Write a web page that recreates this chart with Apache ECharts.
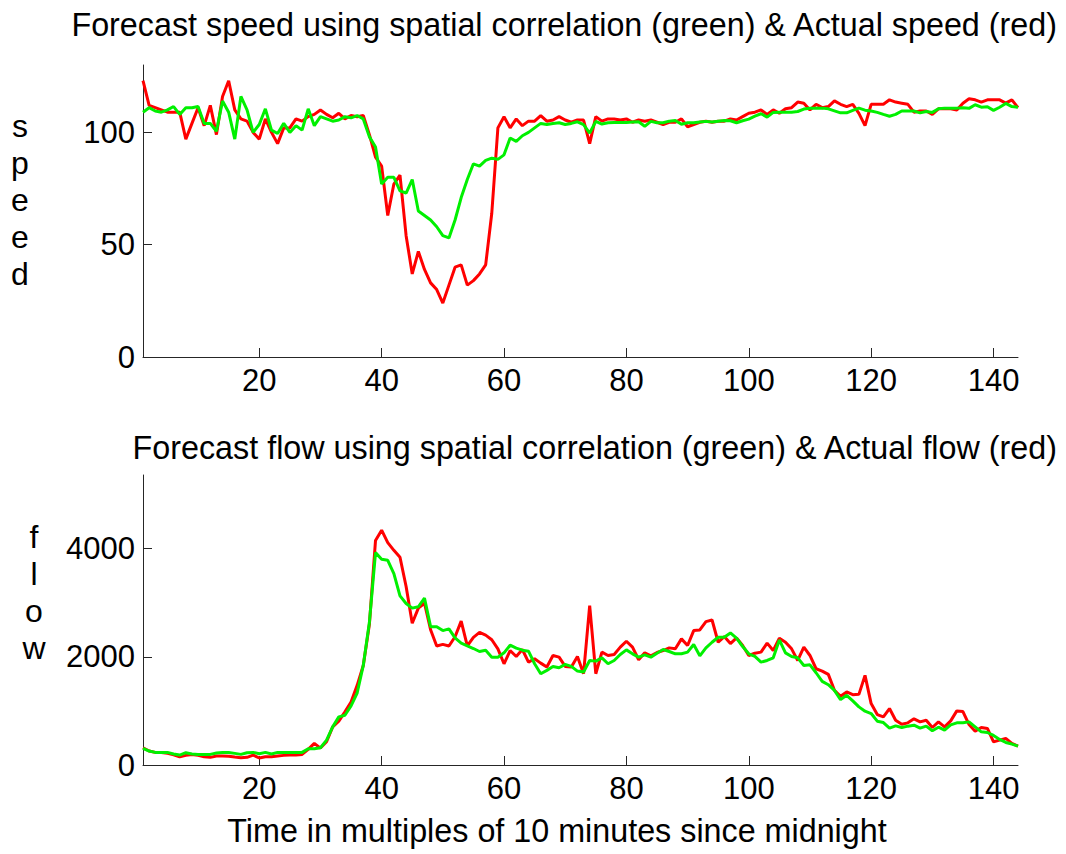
<!DOCTYPE html>
<html>
<head>
<meta charset="utf-8">
<script src="https://cdn.jsdelivr.net/npm/echarts@6/dist/echarts.min.js"></script>
<style>
html,body{margin:0;padding:0;background:#fff;}
#chart{width:1066px;height:854px;}
</style>
</head>
<body>
<div id="chart"></div>
<script>
// Time index: multiples of 10 minutes since midnight (1..144)
const timeStart = 1;
const timeEnd = 144;
const xTicks = [20, 40, 60, 80, 100, 120, 140];
const speedTicks = [0, 50, 100];
const flowTicks = [0, 2000, 4000];

// Actual speed (red)
const speedActual = [
123,112,111,110,109,109,109,97,104,111,
103,112,99,116,123,110,106,105,100,97,
106,100,95,102,102,106,105,107,108,110,
108,106.5,108.5,106,107.5,107,107.5,99,89,85,
63,77,81,54,37,47,39,33,30,24,
32,40,41,32,34,37,41,64,102,107,
102,106,103,105,105,107.5,105,105.5,107,105.5,
104.5,105.5,105.5,95,107,105,106,106,105.5,106,
104.5,105.5,105,105.5,104.5,103.5,104.5,104.5,106,102.5,
103.5,104.5,105,104.5,105,105,106,105.5,107,108.5,
109,110,108,110,108.5,110.5,111,113.5,113,110,
112.5,111,111.5,114,112.5,111.5,112.5,108.5,103,112.5,
112.5,112.5,114.5,113.5,113,112.5,109,109.5,109.5,108,
110.5,110.5,110.5,110,113,115,114.5,113.5,114.5,114.5,
114.5,113,114.5,111
];

// Forecast speed using spatial correlation (green)
const speedForecast = [
109,111,109.5,109,110,111.5,108,111,111,111.5,
104,104,100.5,114,109,97,116,110,100,103.5,
110.5,101,99.5,104,100,103,101,110.5,103,107,
106,105,105.5,107,106.5,107.5,106,98,93.5,77,
80,80,74,73,79,65,63,61,58,54,
53,61,71,79,86,85,87.5,88.5,88,90,
97.5,96,98.5,100,102,104,103.5,104,104.3,103.5,
104,104.7,103.5,99.7,104.9,103.7,104.3,104.4,104.4,104.4,
104.6,104.7,102.7,104.9,104.3,104.3,105,105.3,103.6,104.3,
104.3,104.6,104.9,104.6,105,105.3,105.2,104.3,105.2,105.9,
107.2,108.3,106.8,108.9,109,109,109,109.3,110.4,110.7,
110.8,110.8,110.5,109.6,108.7,108.7,109.8,110.8,109.9,109.5,
108.9,108,107.2,108,109.5,109.5,109.5,108.7,109.3,108.9,
110.5,110.8,110.8,110.8,111,110.7,112.3,111.2,111.4,109.8,
111.2,112.9,111.5,111.2
];

// Actual flow (red)
const flowActual = [
319,258,233,233,215,190,153,178,196,178,
153,141,166,166,160,147,135,141,184,129,
153,153,166,178,184,184,196,288,400,313,
429,705,810,982,1166,1472,1840,2600,4150,4340,
4110,3968,3840,3300,2620,2900,2990,2500,2200,2230,
2200,2370,2660,2200,2360,2450,2400,2315,2147,1871,
2116,2006,2135,1902,1963,1883,1810,2024,1994,1822,
1810,2006,1687,2944,1687,2086,2024,2043,2178,2288,
2178,1945,2073,2018,2079,2116,2165,2147,2331,2208,
2484,2496,2650,2680,2269,2374,2245,2349,2208,2024,
2067,2086,2252,2116,2343,2269,2147,1932,2177,2024,
1779,1736,1675,1380,1270,1350,1300,1306,1656,1135,
932,889,1043,828,754,779,853,797,828,693,
797,705,816,1000,988,748,625,693,675,429,
460,491,399,350
];

// Forecast flow using spatial correlation (green)
const flowForecast = [
307,258,233,233,233,202,184,227,202,196,
196,196,221,233,233,215,196,227,233,209,
233,202,233,233,233,233,233,301,301,319,
460,705,890,920,1092,1331,1840,2637,3925,3802,
3784,3538,3127,2986,2900,2925,3085,2557,2557,2484,
2515,2349,2251,2202,2153,2098,2122,1993,1993,2073,
2214,2159,2122,2104,1871,1687,1749,1822,1798,1859,
1822,1736,1718,1932,1920,1981,1871,1932,2043,2128,
2055,1994,2037,1994,2067,2135,2098,2055,2055,2086,
2227,2018,2165,2269,2361,2361,2440,2343,2190,2055,
2006,1902,1932,1981,2312,2073,2006,1981,1840,1852,
1705,1546,1484,1380,1208,1288,1184,1074,994,951,
810,785,681,724,693,718,736,681,718,632,
699,644,742,779,779,797,705,613,601,546,
472,417,387,350
];

const FONT = '"Liberation Sans", Arial, Helvetica, sans-serif';
const axisColor = '#262626';
const plainNumber = v => String(v);

function pairs(arr) { return arr.map((v, k) => [timeStart + k, v]); }

function xAxisDef(gridIndex) {
  return {
    type: 'value', gridIndex: gridIndex, min: timeStart, max: timeEnd,
    axisLine: { show: true, onZero: false, lineStyle: { color: axisColor, width: 1 } },
    axisTick: { show: true, inside: true, length: 9, customValues: xTicks, lineStyle: { color: axisColor } },
    axisLabel: { customValues: xTicks, formatter: plainNumber, fontSize: 31, color: '#000', fontFamily: FONT, margin: 8 },
    splitLine: { show: false }
  };
}
function yAxisDef(gridIndex, max, ticks) {
  return {
    type: 'value', gridIndex: gridIndex, min: 0, max: max,
    axisLine: { show: true, lineStyle: { color: axisColor, width: 1 } },
    axisTick: { show: true, inside: true, length: 9, customValues: ticks, lineStyle: { color: axisColor } },
    axisLabel: { customValues: ticks, formatter: plainNumber, fontSize: 31, color: '#000', fontFamily: FONT, margin: 8 },
    splitLine: { show: false }
  };
}
function lineSeries(xi, data, color) {
  return {
    type: 'line', xAxisIndex: xi, yAxisIndex: xi, data: pairs(data),
    showSymbol: false, symbol: 'none', smooth: false,
    lineStyle: { color: color, width: 3 }, itemStyle: { color: color },
    animation: false, silent: true
  };
}
function txt(x, y, text, align) {
  return {
    type: 'text', x: x, y: y, silent: true,
    style: { text: text, font: '32.3px ' + FONT, fill: '#000', align: align, verticalAlign: 'middle', textAlign: align, textVerticalAlign: 'middle' }
  };
}

const chart = echarts.init(document.getElementById('chart'), null, { renderer: 'svg', width: 1066, height: 854 });
chart.setOption({
  backgroundColor: '#fff',
  animation: false,
  grid: [
    { left: 143, right: 48, top: 65, bottom: 497, containLabel: false },
    { left: 143, right: 48, top: 475, bottom: 89, containLabel: false }
  ],
  xAxis: [xAxisDef(0), xAxisDef(1)],
  yAxis: [yAxisDef(0, 130, speedTicks), yAxisDef(1, 5360, flowTicks)],
  series: [
    lineSeries(0, speedActual, '#ff0000'),
    lineSeries(0, speedForecast, '#00f000'),
    lineSeries(1, flowActual, '#ff0000'),
    lineSeries(1, flowForecast, '#00f000')
  ],
  graphic: [
    txt(1057, 25, 'Forecast speed using spatial correlation (green) & Actual speed (red)', 'right'),
    txt(1057, 448, 'Forecast flow using spatial correlation (green) & Actual flow (red)', 'right'),
    txt(557, 831, 'Time in multiples of 10 minutes since midnight', 'center'),
    {
      type: 'text', x: 20, y: 200, silent: true,
      style: { text: 's\np\ne\ne\nd', font: '32px ' + FONT, lineHeight: 37, fill: '#000', align: 'center', verticalAlign: 'middle', textAlign: 'center', textVerticalAlign: 'middle' }
    },
    {
      type: 'text', x: 34, y: 592, silent: true,
      style: { text: 'f\nl\no\nw', font: '32px ' + FONT, lineHeight: 37, fill: '#000', align: 'center', verticalAlign: 'middle', textAlign: 'center', textVerticalAlign: 'middle' }
    }
  ]
});
</script>
</body>
</html>
